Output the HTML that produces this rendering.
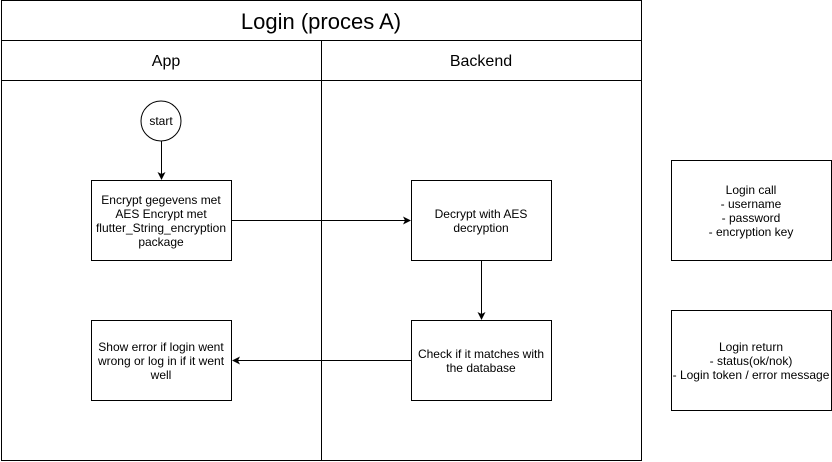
<!DOCTYPE html>
<html><head><style>body{margin:0;background:#fff}svg{display:block}text{font-family:"Liberation Sans",Arial,sans-serif;fill:#000}</style></head><body>
<svg width="832" height="462" viewBox="0 0 832 462" xmlns="http://www.w3.org/2000/svg">
<defs><marker id="a" markerWidth="8" markerHeight="8" refX="7" refY="4" orient="auto" markerUnits="userSpaceOnUse"><path d="M0,0 L8,4 L0,8 L2,4 Z" fill="#000"/></marker></defs>
<g fill="none" stroke="#000" stroke-width="1">
<rect x="1.5" y="0.5" width="640" height="460"/>
<line x1="1.5" y1="40.5" x2="641.5" y2="40.5"/>
<line x1="1.5" y1="80.5" x2="641.5" y2="80.5"/>
<line x1="321.5" y1="40.5" x2="321.5" y2="460.5"/>
<circle cx="161" cy="121" r="20"/>
<rect x="91.5" y="180.5" width="140" height="80"/>
<rect x="411.5" y="180.5" width="140" height="80"/>
<rect x="411.5" y="320.5" width="140" height="80"/>
<rect x="91.5" y="320.5" width="140" height="80"/>
<rect x="671.5" y="160.5" width="160" height="100"/>
<rect x="671.5" y="310.5" width="160" height="100"/>
<line x1="161.5" y1="141" x2="161.5" y2="179" marker-end="url(#a)"/>
<line x1="231.5" y1="220.5" x2="410" y2="220.5" marker-end="url(#a)"/>
<line x1="481.5" y1="260.5" x2="481.5" y2="319" marker-end="url(#a)"/>
<line x1="411.5" y1="360.5" x2="233" y2="360.5" marker-end="url(#a)"/>
</g>
<g text-anchor="middle" font-size="12">
<text x="321" y="29" font-size="22">Login (proces A)</text>
<text x="166" y="66" font-size="16">App</text>
<text x="481" y="66" font-size="16">Backend</text>
<text x="161" y="125">start</text>
<text x="161" y="204">Encrypt gegevens met</text>
<text x="161" y="218">AES Encrypt met</text>
<text x="161" y="232">flutter_String_encryption</text>
<text x="161" y="246">package</text>
<text x="481" y="218">Decrypt with AES</text>
<text x="481" y="232">decryption</text>
<text x="481" y="358">Check if it matches with</text>
<text x="481" y="372">the database</text>
<text x="161" y="351">Show error if login went</text>
<text x="161" y="365">wrong or log in if it went</text>
<text x="161" y="379">well</text>
<text x="751" y="194">Login call</text>
<text x="751" y="208">- username</text>
<text x="751" y="222">- password</text>
<text x="751" y="236">- encryption key</text>
<text x="751" y="351">Login return</text>
<text x="751" y="365">- status(ok/nok)</text>
<text x="751" y="379">- Login token / error message</text>
</g>
</svg>
</body></html>
